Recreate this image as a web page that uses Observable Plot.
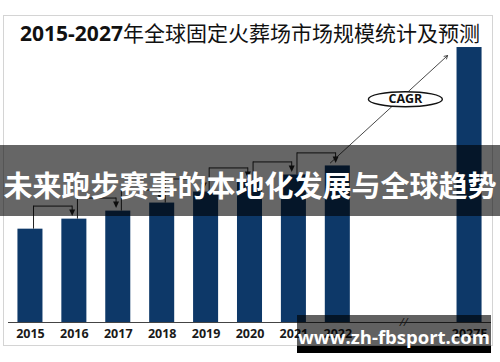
<!DOCTYPE html>
<html>
<head>
<meta charset="utf-8">
<script src="https://cdn.jsdelivr.net/npm/d3@7"></script>
<script src="https://cdn.jsdelivr.net/npm/@observablehq/plot@0.6"></script>
<style>
  html, body { margin: 0; padding: 0; background: #fff; }
  #wrap { position: relative; width: 500px; height: 362px; background: #fff; overflow: hidden; }
  #frame { position: absolute; left: 3px; top: 15px; width: 488px; height: 329px; border: 1px solid #d4d4d4; }
  #chart { position: absolute; left: 0; top: 0; }
  #title { position: absolute; left: 0; top: 21px; width: 500px; height: 23px; line-height: 23px; text-align: center;
           font-size: 21px; color: #111; font-family: "Noto Sans CJK SC", sans-serif; white-space: nowrap; }
  #title b { font-family: "Open Sans", sans-serif; font-weight: 700; }
  #band { position: absolute; left: 0; top: 145px; width: 500px; height: 71px; background: rgba(0,0,0,0.6); }
  #bandText { position: absolute; left: 0; top: 169px; width: 500px; height: 30px; line-height: 30px; text-align: center;
              color: #fff; font-size: 29px; font-weight: 700; font-family: "Noto Sans CJK SC", sans-serif; white-space: nowrap; }
  #wm { position: absolute; left: 297px; top: 315px; width: 194px; height: 31px; background: rgba(0,0,0,0.62); }
  #wmStrip { position: absolute; left: 297px; top: 346px; width: 194px; height: 7px; background: #000; }
  #wmText { position: absolute; left: 297px; top: 325px; width: 194px; height: 24px; line-height: 24px; text-align: center;
            color: #fff; font-size: 18.5px; font-weight: 700; font-family: "Open Sans", sans-serif; white-space: nowrap; }
</style>
</head>
<body>
<div id="wrap">
  <div id="frame"></div>
  <div id="chart"></div>
  <div id="title"><b>2015-2027</b>年全球固定火葬场市场规模统计及预测</div>
  <div id="band"></div>
  <div id="bandText">未来跑步赛事的本地化发展与全球趋势</div>
  <div id="wm"></div>
  <div id="wmStrip"></div>
  <div id="wmText">www.zh-fbsport.com</div>
</div>
<script>
// ---- data ----
const years  = ["2015", "2016", "2017", "2018", "2019", "2020", "2021", "2022", "2027E"];
const values = [93, 103, 111, 119, 130, 141, 147, 156, 274];
const breakGap = 2; // axis break between 2022 and 2027E (skipped slots)
const cagrLabel = "CAGR";

// ---- derived table ----
const pos = years.map((d, i) => (i < years.length - 1 ? i : i + breakGap));
const data = years.map((year, i) => ({ year, value: values[i], pos: pos[i] }));
const conn = data.slice(0, 7).map((d, i) => ({
  a: d.pos, b: data[i + 1].pos, v1: d.value, v2: data[i + 1].value, level: data[i + 1].value + 13
}));
const last = data[data.length - 1], prev = data[data.length - 2];
const cagrLine = [{ x1: prev.pos - 0.17, y1: prev.value + 3, x2: last.pos - 0.5, y2: last.value - 8 }];
const t = 0.64;
const cagrPt = [{ x: cagrLine[0].x1 + t * (cagrLine[0].x2 - cagrLine[0].x1),
                  y: cagrLine[0].y1 + t * (cagrLine[0].y2 - cagrLine[0].y1), label: cagrLabel }];
const breakPos = [(prev.pos + last.pos) / 2];

const downTri = { draw(ctx) { ctx.moveTo(-3, -3.5); ctx.lineTo(3, -3.5); ctx.lineTo(0, 3); ctx.closePath(); } };
const ellipse = { draw(ctx) {
  const rx = 37, ry = 7.5, k = 0.5523;
  ctx.moveTo(rx, 0);
  ctx.bezierCurveTo(rx, ry * k, rx * k, ry, 0, ry);
  ctx.bezierCurveTo(-rx * k, ry, -rx, ry * k, -rx, 0);
  ctx.bezierCurveTo(-rx, -ry * k, -rx * k, -ry, 0, -ry);
  ctx.bezierCurveTo(rx * k, -ry, rx, -ry * k, rx, 0);
  ctx.closePath();
} };

const chart = Plot.plot({
  width: 500, height: 362,
  marginLeft: 8, marginRight: 9, marginTop: 41, marginBottom: 40,
  style: { fontFamily: "Open Sans, sans-serif", background: "transparent", overflow: "visible" },
  x: { domain: [-0.5, 10.5], axis: null },
  y: { domain: [0, 280], axis: null },
  marks: [
    Plot.rectY(data, { x1: d => d.pos - 0.285, x2: d => d.pos + 0.285, y: "value", fill: "#0d3868" }),
    Plot.ruleX(conn, { x: d => d.a + 0.07, y1: "v1", y2: "level", stroke: "#222", strokeWidth: 1 }),
    Plot.link(conn, { x1: d => d.a + 0.07, x2: d => d.b - 0.05, y1: "level", y2: "level", stroke: "#222", strokeWidth: 1 }),
    Plot.ruleX(conn, { x: d => d.b - 0.05, y1: "level", y2: d => d.v2 + 7, stroke: "#222", strokeWidth: 1 }),
    Plot.dot(conn, { x: d => d.b - 0.05, y: d => d.v2 + 6, symbol: downTri, fill: "#222", stroke: null }),
    Plot.arrow(cagrLine, { x1: "x1", y1: "y1", x2: "x2", y2: "y2", stroke: "#333", strokeWidth: 0.9, headLength: 6 }),
    Plot.dot(cagrPt, { x: "x", y: "y", dy: 5, symbol: ellipse, fill: "#fff", stroke: "#111", strokeWidth: 1.4 }),
    Plot.text(cagrPt, { x: "x", y: "y", dy: 5, text: "label", fontSize: 12.5, fontWeight: "bold", fill: "#111" }),
    Plot.ruleY([0], { stroke: "#444", strokeWidth: 1 }),
    Plot.axisX(pos, { tickSize: 0, tickPadding: 7, tickFormat: p => years[pos.indexOf(p)],
                      fontSize: 12.5, fontWeight: "bold", fill: "#1a1a1a", anchor: "bottom" }),
    Plot.text(breakPos, { x: d => d, y: 0, text: () => "//", fontSize: 11, fill: "#333", fontStyle: "italic" })
  ]
});
document.getElementById("chart").appendChild(chart);
</script>
</body>
</html>
